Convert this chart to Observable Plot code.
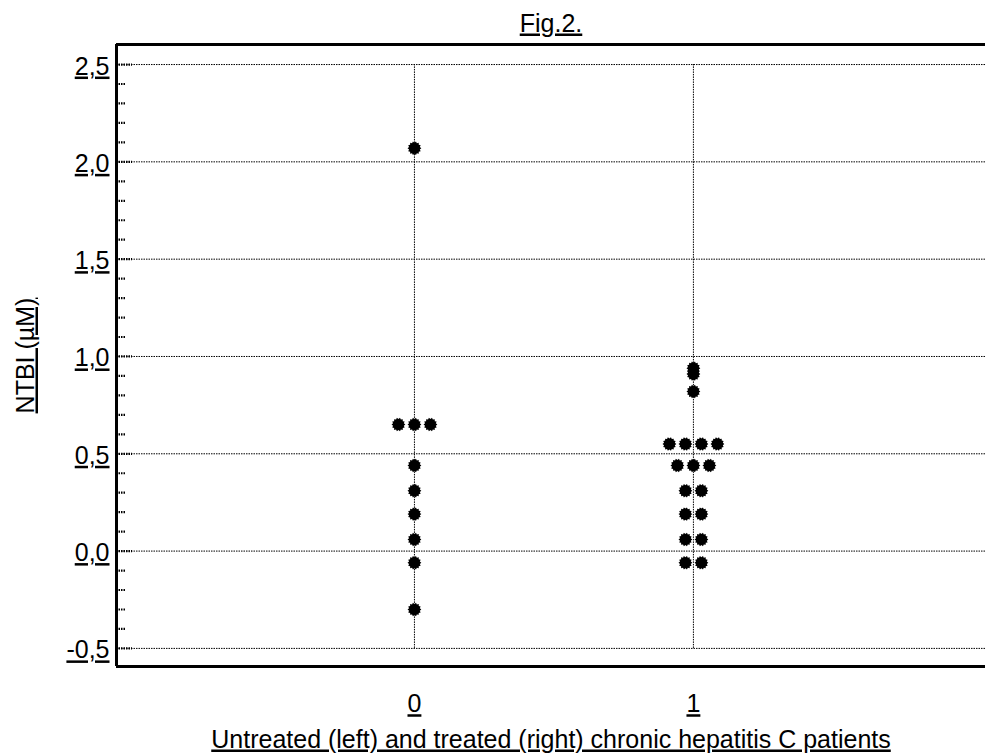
<!DOCTYPE html>
<html>
<head>
<meta charset="utf-8">
<script src="https://cdn.jsdelivr.net/npm/d3@7"></script>
<script src="https://cdn.jsdelivr.net/npm/@observablehq/plot@0.6"></script>
<style>
  html, body { margin: 0; padding: 0; background: #fff; }
  #chart svg text { text-decoration: underline; }
</style>
</head>
<body>
<div id="chart"></div>
<script>
// ---- data ----
const groups = [0, 1];
const xTickLabels = ["0", "1"];
const untreated = [2.07, 0.65, 0.65, 0.65, 0.44, 0.31, 0.19, 0.06, -0.06, -0.30];
const treated = [0.94, 0.91, 0.82, 0.55, 0.55, 0.55, 0.55, 0.44, 0.44, 0.44,
                 0.31, 0.31, 0.19, 0.19, 0.06, 0.06, -0.06, -0.06];
const yTicks = [-0.5, 0, 0.5, 1.0, 1.5, 2.0, 2.5];
const title = "Fig.2.";
const yLabel = "NTBI (µM)";
const xLabel = "Untreated (left) and treated (right) chronic hepatitis C patients";

// ---- layout ----
const W = 985, H = 756;
const mL = 116, mR = 0, mT = 44, mB = 90;
const xDomain = [-1.068, 2.047];
const yDomain = [-0.593, 2.603];
const pxPerX = (W - mL - mR) / (xDomain[1] - xDomain[0]);
const stepPx = 16;
const FS = 25;

// build table: side-by-side spreading of identical values
function spread(values, g) {
  const counts = d3.rollup(values, v => v.length, v => v);
  const seen = new Map();
  return values.map(v => {
    const n = counts.get(v);
    const i = seen.get(v) || 0;
    seen.set(v, i + 1);
    return {group: g, value: v, x: g + (i - (n - 1) / 2) * stepPx / pxPerX};
  });
}
const table = [...spread(untreated, groups[0]), ...spread(treated, groups[1])];

const yMinor = d3.range(-5, 26).map(d => d / 10).filter(d => Math.abs(d * 2 - Math.round(d * 2)) > 1e-6);

// jagged filled marker
const burst = {
  draw(ctx, size) {
    const R = Math.sqrt(size / Math.PI);
    const n = 14;
    for (let k = 0; k < 2 * n; k++) {
      const r = k % 2 === 0 ? R * 1.15 : R * 0.92;
      const a = (Math.PI * k) / n;
      if (k === 0) ctx.moveTo(r * Math.cos(a), r * Math.sin(a));
      else ctx.lineTo(r * Math.cos(a), r * Math.sin(a));
    }
    ctx.closePath();
  }
};

const fmt = d => (d < 0 ? "-" : "") + Math.abs(d).toFixed(1).replace(".", ",");
const tickDash = {stroke: "#000", strokeWidth: 2.2, strokeDasharray: "1.5,1"};

const chart = Plot.plot({
  width: W,
  height: H,
  marginLeft: mL,
  marginRight: mR,
  marginTop: mT,
  marginBottom: mB,
  style: {fontFamily: "'Liberation Sans', Arial, sans-serif", fontSize: FS + "px", color: "#000", background: "#fff"},
  x: {domain: xDomain, label: null},
  y: {domain: yDomain, label: null},
  marks: [
    // grid
    Plot.ruleY(yTicks, {stroke: "#000", strokeWidth: 1, strokeDasharray: "1.5,1"}),
    Plot.ruleX(groups, {y1: yTicks[0], y2: yTicks[yTicks.length - 1], stroke: "#000", strokeWidth: 1, strokeDasharray: "1.5,1"}),
    // minor & major inward ticks
    Plot.ruleY(yMinor, {x1: xDomain[0], x2: xDomain[0] + 9 / pxPerX, ...tickDash}),
    Plot.ruleY(yTicks, {x1: xDomain[0], x2: xDomain[0] + 16 / pxPerX, ...tickDash}),
    // tick labels
    Plot.axisY({ticks: yTicks, tickSize: 0, tickPadding: 7, dy: 2, tickFormat: fmt, fontSize: FS, label: null}),
    Plot.axisX({ticks: groups, tickSize: 0, tickPadding: 28, tickFormat: (d, i) => xTickLabels[i], fontSize: FS, label: null}),
    // frame lines
    Plot.ruleX([xDomain[0]], {stroke: "#000", strokeWidth: 3}),
    Plot.ruleY([yDomain[0]], {stroke: "#000", strokeWidth: 3}),
    Plot.ruleY([yDomain[1]], {stroke: "#000", strokeWidth: 3}),
    // points
    Plot.dot(table, {x: "x", y: "value", symbol: burst, r: 6, fill: "#000", stroke: "none"}),
    // texts
    Plot.text([title], {frameAnchor: "top", lineAnchor: "middle", dy: -21, fontSize: FS}),
    Plot.text([xLabel], {frameAnchor: "bottom", lineAnchor: "middle", dy: 73, fontSize: FS}),
    Plot.text([yLabel], {frameAnchor: "left", textAnchor: "middle", lineAnchor: "middle", dx: -91, rotate: -90, fontSize: FS})
  ]
});
document.getElementById("chart").appendChild(chart);
</script>
</body>
</html>
